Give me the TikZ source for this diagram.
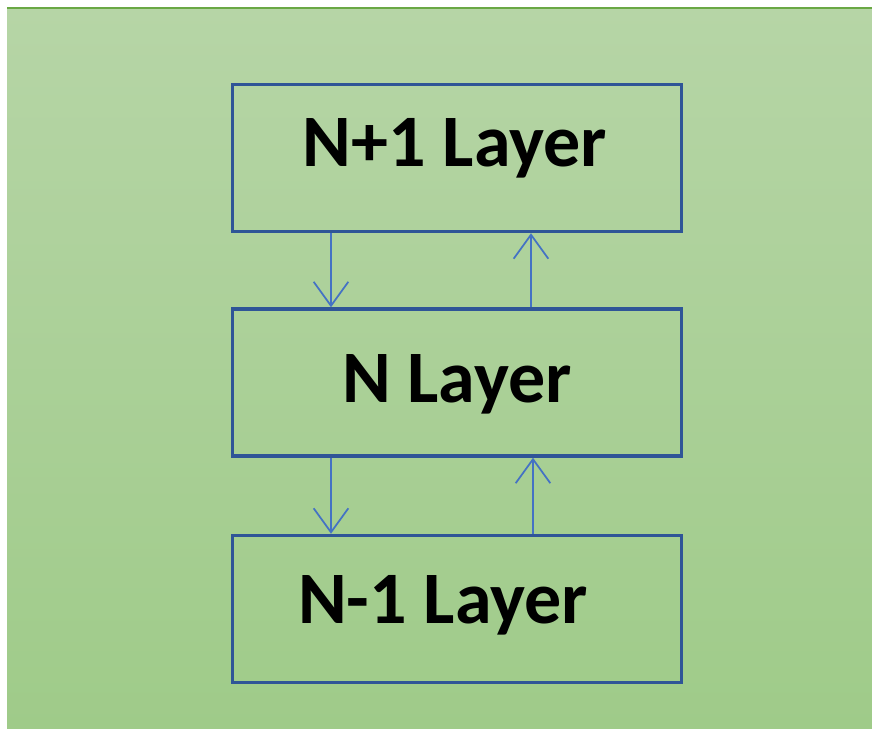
\documentclass[tikz,border=0pt]{standalone}
\usepackage{fontspec}
\setmainfont{Carlito}
\usetikzlibrary{arrows.meta}

\definecolor{bgtop}{RGB}{182,213,166}
\definecolor{bgbottom}{RGB}{159,203,137}
\definecolor{bgline}{RGB}{106,168,68}
\definecolor{boxblue}{RGB}{47,85,151}
\definecolor{arrowblue}{RGB}{68,114,196}

\tikzset{every picture/.style={line width=0.75pt}}
\tikzset{
  layerbox/.style={draw=boxblue, line width=2.6pt, rectangle, inner sep=0pt,
    minimum width=336.75pt, minimum height=110.25pt},
  layertext/.style={anchor=base, inner sep=0pt, font=\fontsize{55.5pt}{60pt}\selectfont\bfseries},
  flow/.style={draw=arrowblue, line width=1.3pt, -{Straight Barb[length=18pt, width=26pt, line width=1.3pt]}}
}

\begin{document}
\begin{tikzpicture}[x=0.75pt,y=0.75pt,yscale=-1,xscale=1]
\useasboundingbox (0,0) rectangle (872,729);

%Shape: Background
\shade [top color=bgtop, bottom color=bgbottom] (7,8) rectangle (872,729);
%Straight Lines: top edge
\draw [bgline, line width=1.7pt] (7,8) -- (872,8);

%Shape: Rectangle boxes
\node [layerbox] (upper) at (457,158) {};
\node [layerbox] (middle) at (457,382.5) {};
\node [layerbox] (lower) at (457,609) {};

% Text Node
\node [layertext] (uppertxt) at (455,166) {N+1 Layer};
% Text Node
\node [layertext] (middletxt) at (457,402) {N Layer};
% Text Node
\node [layertext] (lowertxt) at (443,623) {N-1 Layer};

%Straight Lines: down and up
\draw [flow] ([xshift=-94.5pt]upper.south) -- ([xshift=-94.5pt]middle.north);
\draw [flow] ([xshift=55.5pt]middle.north) -- ([xshift=55.5pt]upper.south);
\draw [flow] ([xshift=-94.5pt]middle.south) -- ([xshift=-94.5pt]lower.north);
\draw [flow] ([xshift=57pt]lower.north) -- ([xshift=57pt]middle.south);

\end{tikzpicture}
\end{document}
